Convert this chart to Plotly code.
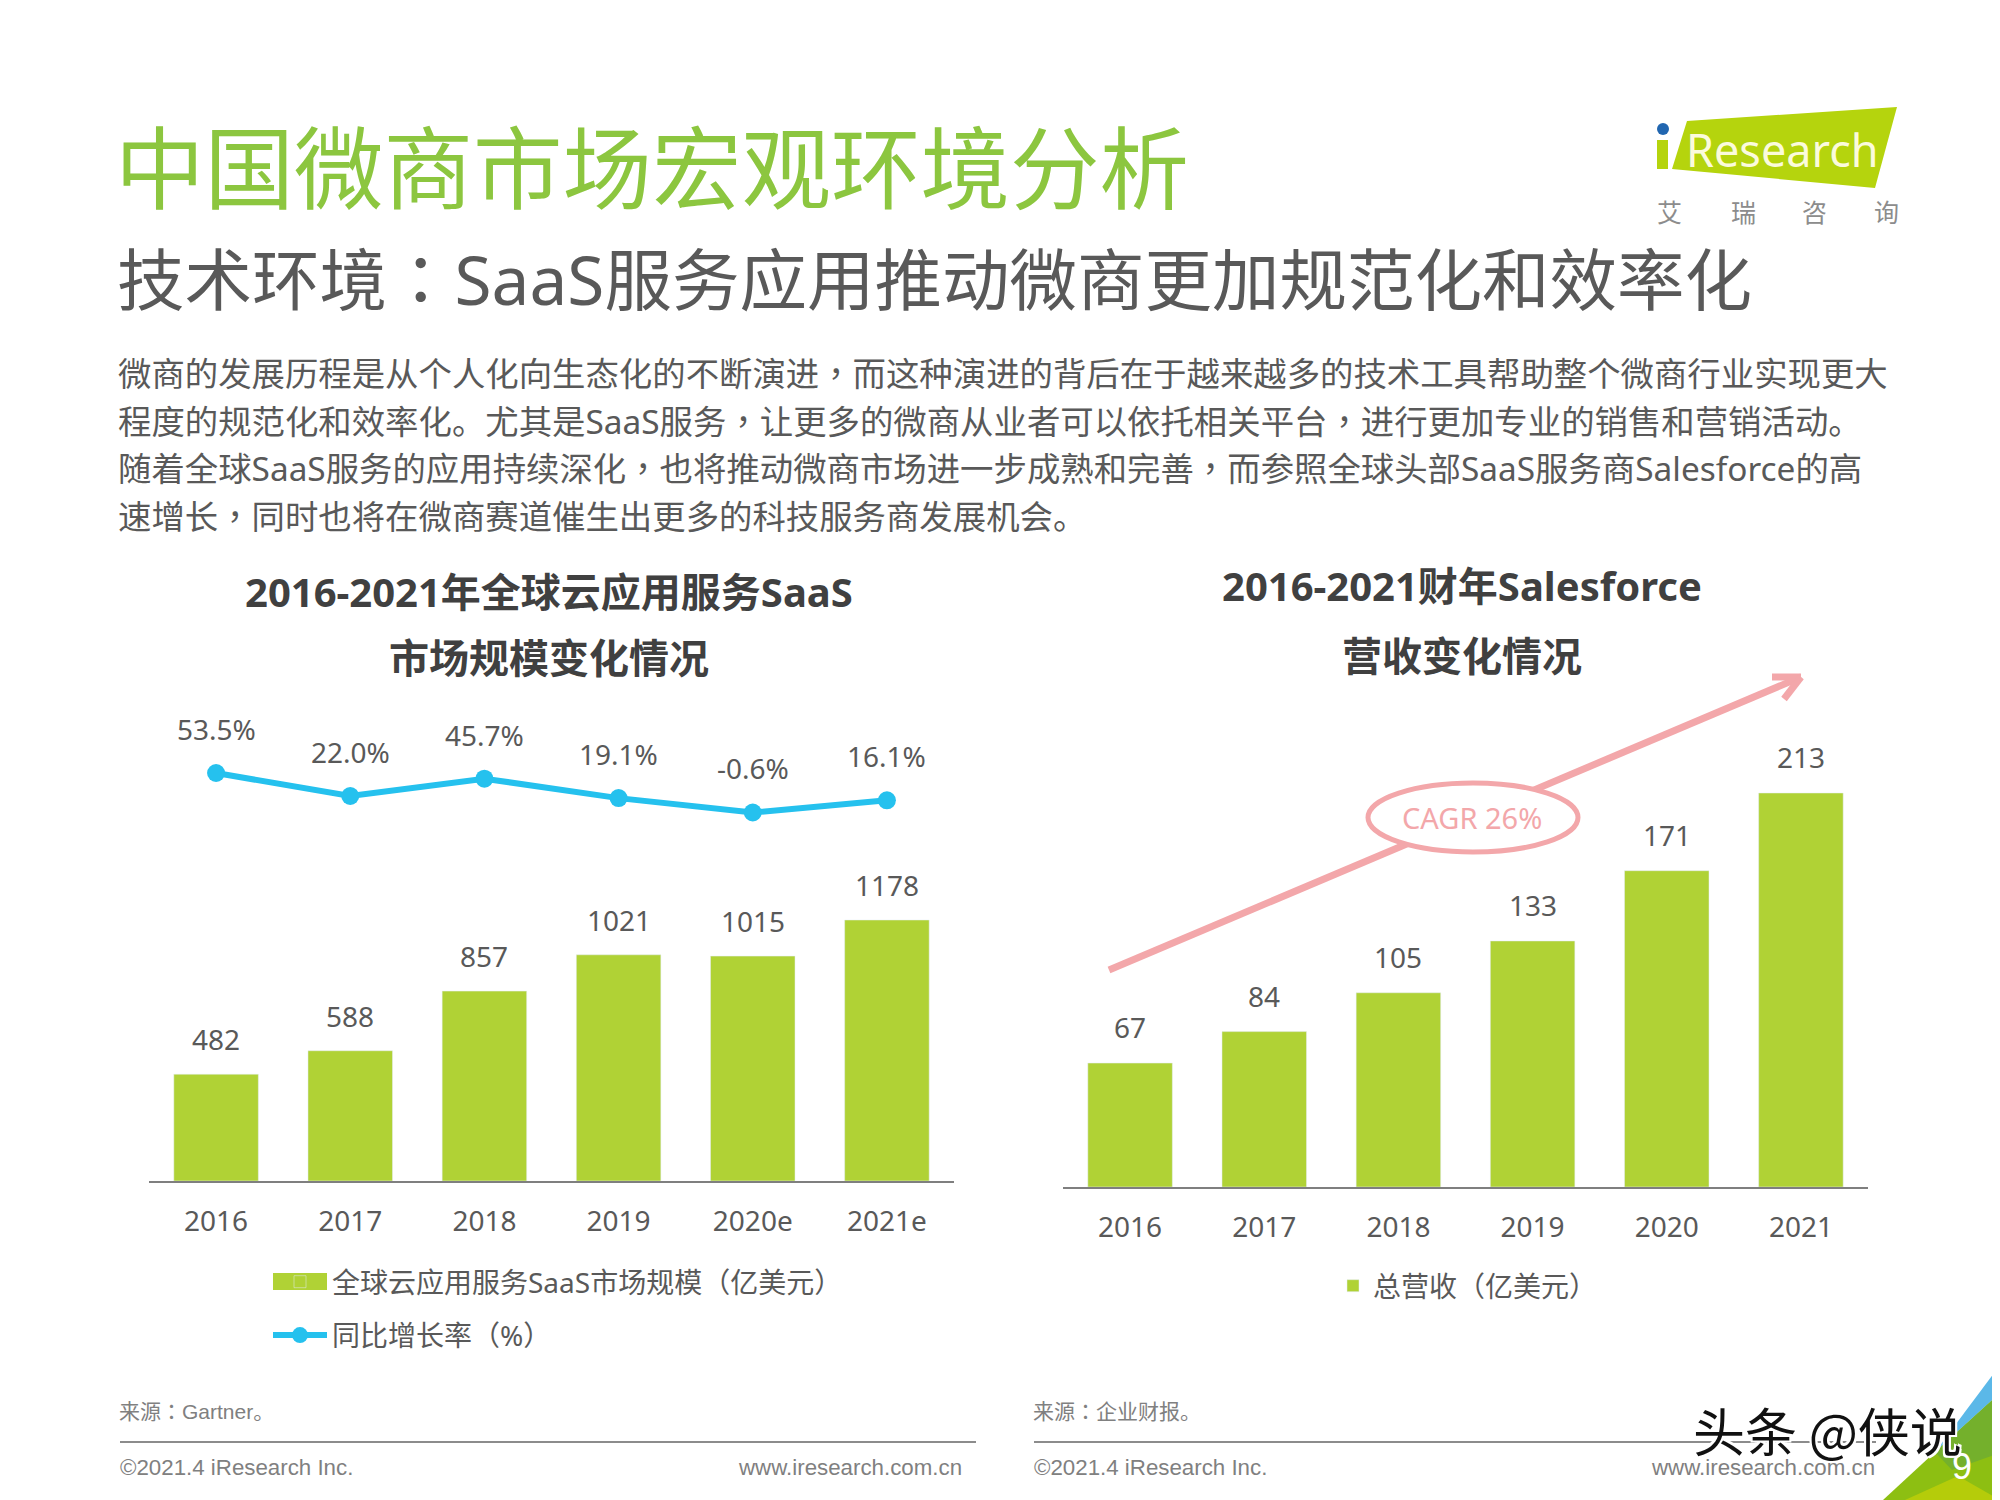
import plotly.graph_objects as go

# ---- data ----
saas_years = ["2016", "2017", "2018", "2019", "2020e", "2021e"]
saas_size = [482, 588, 857, 1021, 1015, 1178]
saas_growth = [53.5, 22.0, 45.7, 19.1, -0.6, 16.1]
saas_growth_labels = ["53.5%", "22.0%", "45.7%", "19.1%", "-0.6%", "16.1%"]
sf_years = ["2016", "2017", "2018", "2019", "2020", "2021"]
sf_revenue = [67, 84, 105, 133, 171, 213]

title_main = "中国微商市场宏观环境分析"
title_sub = "技术环境：SaaS服务应用推动微商更加规范化和效率化"
body_lines = [
    "微商的发展历程是从个人化向生态化的不断演进，而这种演进的背后在于越来越多的技术工具帮助整个微商行业实现更大",
    "程度的规范化和效率化。尤其是SaaS服务，让更多的微商从业者可以依托相关平台，进行更加专业的销售和营销活动。",
    "随着全球SaaS服务的应用持续深化，也将推动微商市场进一步成熟和完善，而参照全球头部SaaS服务商Salesforce的高",
    "速增长，同时也将在微商赛道催生出更多的科技服务商发展机会。",
]
left_title = ["2016-2021年全球云应用服务SaaS", "市场规模变化情况"]
right_title = ["2016-2021财年Salesforce", "营收变化情况"]
legend_size = "全球云应用服务SaaS市场规模（亿美元）"
legend_growth = "同比增长率（%）"
legend_rev = "总营收（亿美元）"

# ---- style ----
# the page body has an 8 px margin, so the figure is 8 px smaller and coordinates are shifted
PAGE_OFFSET = 8
W, H = 2000 - PAGE_OFFSET, 1500 - PAGE_OFFSET
GREEN = "#B0D235"
BLUE = "#25C1EE"
PINK = "#F3A7AA"
TXT = "#595959"
GREY = "#808080"
CJK = "'Noto Sans', 'Noto Sans CJK SC', sans-serif"
CJKONLY = "'Noto Sans CJK SC', sans-serif"
ARIAL = "'Liberation Sans', 'Noto Sans CJK SC', sans-serif"


def fx(x):
    return (x - PAGE_OFFSET) / W


def fy(y):
    return 1 - (y - PAGE_OFFSET) / H


def punct(s):
    # centred full-width comma/colon, as in the reference
    for ch in "，：":
        s = s.replace(ch, f"<span style=\"font-family:'Noto Sans CJK TC'\">{ch}</span>")
    return s


ann = []
shapes = []


def text(s, x, y, size, color=TXT, anchor="left", family=CJK, bold=False, **kw):
    ann.append(dict(
        text=f"<b>{s}</b>" if bold else s, x=fx(x), y=fy(y), xref="paper", yref="paper",
        xanchor=anchor, yanchor="middle", showarrow=False,
        font=dict(size=size, color=color, family=family, **kw),
    ))


def poly(points, color):
    path = "M" + " L".join(f"{fx(a):.5f},{fy(b):.5f}" for a, b in points) + " Z"
    shapes.append(dict(type="path", path=path, xref="paper", yref="paper",
                       fillcolor=color, line=dict(width=0), layer="below"))


def seg(x0, y0, x1, y1, color, width):
    shapes.append(dict(type="line", x0=fx(x0), y0=fy(y0), x1=fx(x1), y1=fy(y1),
                       xref="paper", yref="paper", line=dict(color=color, width=width)))


fig = go.Figure()

# ---- left chart ----
fig.add_trace(go.Bar(x=saas_years, y=saas_size, name=legend_size, marker_color=GREEN,
                     width=0.63, xaxis="x", yaxis="y", legend="legend", legendgroup="a",
                     hoverinfo="x+y"))
fig.add_trace(go.Scatter(x=saas_years, y=saas_growth, name=legend_growth, mode="lines+markers",
                         line=dict(color=BLUE, width=6), marker=dict(size=18, color=BLUE),
                         xaxis="x3", yaxis="y3", legend="legend", legendgroup="b"))
# ---- right chart ----
fig.add_trace(go.Bar(x=sf_years, y=sf_revenue, name=legend_rev, marker_color=GREEN,
                     width=0.63, xaxis="x2", yaxis="y2", legend="legend2"))

for i, v in enumerate(saas_size):
    ann.append(dict(x=i, y=v, xref="x", yref="y", text=str(v), showarrow=False, yshift=35,
                    yanchor="middle", font=dict(size=28, color=TXT, family=CJK)))
for i, (v, lab) in enumerate(zip(saas_growth, saas_growth_labels)):
    ann.append(dict(x=i, y=v, xref="x3", yref="y3", text=lab, showarrow=False, yshift=44,
                    yanchor="middle", font=dict(size=28, color=TXT, family=CJK)))
for i, v in enumerate(sf_revenue):
    ann.append(dict(x=i, y=v, xref="x2", yref="y2", text=str(v), showarrow=False, yshift=36,
                    yanchor="middle", font=dict(size=28, color=TXT, family=CJK)))

# ---- page text ----
text(title_main, 113, 163, 89.5, color="#8CC63F", family=CJKONLY)
text(punct(title_sub), 115, 276, 67.5, family=CJK)
for line, y in zip(body_lines, [371, 419, 466, 515]):
    text(punct(line), 116, y, 33.4)
text(left_title[0], 549, 591, 40, bold=True, color="#404040", anchor="center")
text(left_title[1], 549, 658, 40, bold=True, color="#404040", anchor="center")
text(right_title[0], 1462, 586, 40, bold=True, color="#404040", anchor="center")
text(right_title[1], 1462, 655, 40, bold=True, color="#404040", anchor="center")

# ---- footer ----
text(punct("来源：Gartner。"), 117, 1410, 21, color=GREY, family=ARIAL)
text(punct("来源：企业财报。"), 1031, 1410, 21, color=GREY, family=ARIAL)
text("©2021.4 iResearch Inc.", 118, 1467, 22.3, color=GREY, family=ARIAL)
text("©2021.4 iResearch Inc.", 1032, 1467, 22.3, color=GREY, family=ARIAL)
text("www.iresearch.com.cn", 964, 1467, 22.3, color=GREY, family=ARIAL, anchor="right")
text("www.iresearch.com.cn", 1877, 1467, 22.3, color=GREY, family=ARIAL, anchor="right")
seg(120, 1442, 976, 1442, "#8C8C8C", 2)
seg(1034, 1442, 1876, 1442, "#8C8C8C", 2)

# ---- corner decoration ----
poly([(2000, 1393), (1935, 1452), (1883, 1500), (2000, 1500)], "#8DBF12")
poly([(2000, 1365), (1935, 1452), (2000, 1393)], "#5BB8E8")
poly([(1935, 1452), (2000, 1393), (2000, 1453), (1952, 1470)], "#74B02C")
poly([(1905, 1500), (1958, 1476), (2000, 1500)], "#B5CC0A")
text("9", 1962, 1466, 36, color="#FFFFFF", anchor="center", family=ARIAL)
text("头条 @侠说", 1691, 1429, 52, color="#111111", family=CJKONLY,
     shadow="2px 2px 0 #fff, -2px -2px 0 #fff, 2px -2px 0 #fff, -2px 2px 0 #fff")

# ---- logo ----
poly([(1687, 121), (1897, 107), (1875, 188), (1672, 169)], "#B5D40D")
poly([(1657, 140), (1668, 140), (1668, 169), (1657, 169)], "#B5D40D")
shapes.append(dict(type="circle", x0=fx(1657), x1=fx(1669), y0=fy(123), y1=fy(135),
                   xref="paper", yref="paper", fillcolor="#2166B0", line=dict(width=0)))
text("Research", 1782, 149, 45, color="#FBFBDC", anchor="center", family=CJK)
for ch, x in zip("艾瑞咨询", [1669, 1743, 1814, 1886]):
    text(ch, x, 211, 25, color="#8C8C8C", anchor="center", family=CJKONLY)

# ---- CAGR arrow ----
seg(1109, 970, 1801, 677, PINK, 7)
seg(1801, 677, 1772, 677, PINK, 7)
seg(1801, 677, 1784, 699, PINK, 7)
shapes.append(dict(type="circle", x0=fx(1368), x1=fx(1578), y0=fy(783), y1=fy(852),
                   xref="paper", yref="paper", fillcolor="#FFFFFF", line=dict(color=PINK, width=5)))
text("CAGR 26%", 1472, 817, 29, color=PINK, anchor="center")

# wide swatch behind the left legend's bar key
poly([(273, 1273), (327, 1273), (327, 1290), (273, 1290)], GREEN)

axis_x = dict(type="category", showline=True, linecolor="#7F7F7F", linewidth=2, ticks="",
              range=[-0.5, 5.5], showgrid=False, zeroline=False, ticklabelstandoff=14,
              tickfont=dict(size=28, color=TXT, family=CJK))
hidden = dict(visible=False, showgrid=False, zeroline=False)

L_X0, L_X1 = 149, 954
R_X0, R_X1 = 1063, 1868
L_BASE, R_BASE = 1181, 1187
L_TOP, R_TOP = 900, 760
L_SCALE = (1181 - 920) / 1178
R_SCALE = (1187 - 793) / 213
G_TOP, G_BOTTOM = 745, 835
G_SCALE = (812.5 - 773) / 54.1

fig.update_layout(
    width=W, height=H, margin=dict(l=0, r=0, t=0, b=0, autoexpand=False),
    paper_bgcolor="#FFFFFF", plot_bgcolor="rgba(0,0,0,0)",
    annotations=ann, shapes=shapes, bargap=0.37,
    font=dict(family=CJK, color=TXT),
    xaxis=dict(axis_x, domain=[fx(L_X0), fx(L_X1)], anchor="y"),
    yaxis=dict(hidden, domain=[fy(L_BASE), fy(L_TOP)], range=[0, (L_BASE - L_TOP) / L_SCALE]),
    xaxis2=dict(axis_x, domain=[fx(R_X0), fx(R_X1)], anchor="y2"),
    yaxis2=dict(hidden, domain=[fy(R_BASE), fy(R_TOP)], range=[0, (R_BASE - R_TOP) / R_SCALE]),
    xaxis3=dict(visible=False, type="category", range=[-0.5, 5.5],
                domain=[fx(L_X0), fx(L_X1)], anchor="y3"),
    yaxis3=dict(hidden, domain=[fy(G_BOTTOM), fy(G_TOP)],
                range=[53.5 - (G_BOTTOM - 773) / G_SCALE, 53.5 + (773 - G_TOP) / G_SCALE]),
    legend=dict(x=fx(268), y=fy(1257), xanchor="left", yanchor="top", orientation="v",
                font=dict(size=28, color=TXT, family=CJK), itemwidth=54,
                tracegroupgap=14, bgcolor="rgba(0,0,0,0)", traceorder="grouped"),
    legend2=dict(x=fx(1333), y=fy(1261), xanchor="left", yanchor="top",
                 font=dict(size=28, color=TXT, family=CJK), bgcolor="rgba(0,0,0,0)"),
    showlegend=True,
)
fig.write_html("out.html")
